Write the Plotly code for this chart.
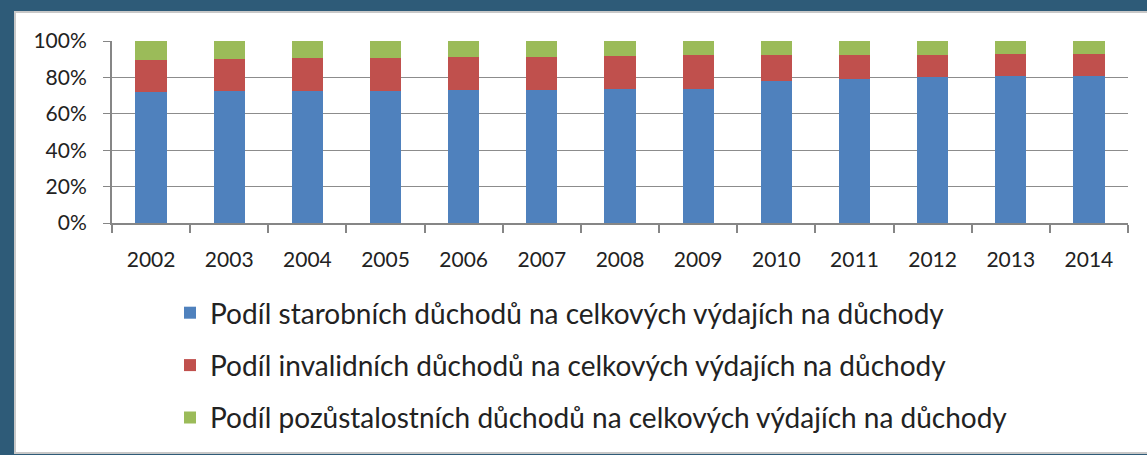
import plotly.graph_objects as go

years = ["2002", "2003", "2004", "2005", "2006", "2007", "2008",
         "2009", "2010", "2011", "2012", "2013", "2014"]
starobni = [72.0, 72.5, 72.5, 72.5, 73.1, 72.9, 73.5, 73.6, 78.2, 79.1, 80.4, 80.9, 80.9]
invalidni = [17.6, 17.7, 18.2, 18.2, 18.0, 18.2, 18.0, 18.6, 14.1, 13.2, 11.9, 11.8, 11.8]
pozustalostni = [10.4, 9.8, 9.3, 9.3, 8.9, 8.9, 8.5, 7.8, 7.7, 7.7, 7.7, 7.3, 7.3]
names = [
    "Podíl starobních důchodů na celkových výdajích na důchody",
    "Podíl invalidních důchodů na celkových výdajích na důchody",
    "Podíl pozůstalostních důchodů na celkových výdajích na důchody",
]
colors = ["#4f81bd", "#c0504d", "#9bbb59"]
y_ticks = [0, 20, 40, 60, 80, 100]
y_labels = ["0%", "20%", "40%", "60%", "80%", "100%"]

W, H = 1147, 455
ml, mr, mt, mb = 112, 19, 41, 232
pw = W - ml - mr
ph = H - mt - mb

def px_x(p):
    return (p - ml) / pw

def px_y(p):
    return (H - mb - p) / ph

fig = go.Figure()
for i, (vals, nm, col) in enumerate(zip([starobni, invalidni, pozustalostni], names, colors)):
    fig.add_trace(go.Bar(x=years, y=vals, name=nm, marker_color=col,
                         marker_line_width=0, legendgroup=f"g{i}"))

fig.add_shape(type="rect", xref="paper", yref="paper", layer="below",
              x0=px_x(15), x1=px_x(1160), y0=px_y(453), y1=px_y(12),
              fillcolor="white", line=dict(color="#c8c8c8", width=2))

fig.update_layout(
    width=W, height=H,
    margin=dict(l=ml, r=mr, t=mt, b=mb, pad=0, autoexpand=False),
    paper_bgcolor="#2e5b78",
    plot_bgcolor="white",
    barmode="stack",
    bargap=0.6,
    font=dict(family="Lato", size=21, color="#222222"),
    xaxis=dict(showgrid=False, showline=True, linecolor="#868686", linewidth=2,
               ticks="outside", tickson="boundaries", ticklen=8, tickcolor="#868686",
               tickwidth=2, ticklabelstandoff=17, tickfont=dict(size=21)),
    yaxis=dict(range=[0, 100], tickvals=y_ticks, ticktext=y_labels,
               showgrid=True, gridcolor="#8c8c8c", gridwidth=1,
               showline=True, linecolor="#868686", linewidth=2,
               ticks="outside", ticklen=7, tickcolor="#868686", tickwidth=1,
               ticklabelstandoff=12, zeroline=False, tickfont=dict(size=21)),
    legend=dict(x=px_x(170), y=px_y(288), xanchor="left", yanchor="top",
                orientation="v", traceorder="grouped", tracegroupgap=13,
                bgcolor="rgba(0,0,0,0)", font=dict(size=28, color="#222222")),
    showlegend=True,
)

fig.write_html("out.html", post_script="document.body.style.margin='0';",
               config={"displayModeBar": False})
